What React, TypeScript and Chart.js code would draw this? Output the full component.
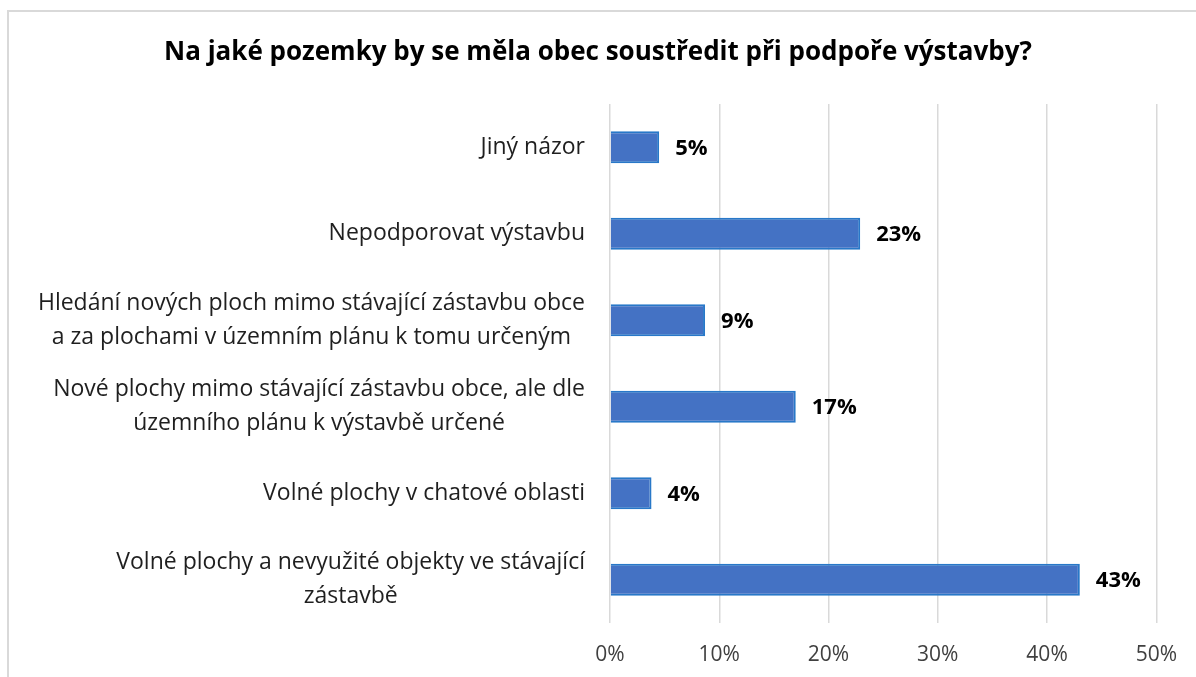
import { useEffect, useRef } from 'react';
import { Chart, registerables } from 'chart.js';

Chart.register(...registerables);

const chartTitle = 'Na jaké pozemky by se měla obec soustředit při podpoře výstavby?';
const categories: string[][] = [
  ['Jiný názor'],
  ['Nepodporovat výstavbu'],
  ['Hledání nových ploch mimo stávající zástavbu obce', 'a za plochami v územním plánu k tomu určeným'],
  ['Nové plochy mimo stávající zástavbu obce, ale dle', 'územního plánu k výstavbě určené'],
  ['Volné plochy v chatové oblasti'],
  ['Volné plochy a nevyužité objekty ve stávající', 'zástavbě'],
];
const values = [4.5, 22.9, 8.7, 17.0, 3.8, 43.0];
const valueLabels = ['5%', '23%', '9%', '17%', '4%', '43%'];
const xTickValues = [0, 10, 20, 30, 40, 50];

const FONT = '"Open Sans", Lato, sans-serif';

const decorPlugin = {
  id: 'decor',
  beforeDraw(chart: any) {
    const ctx = chart.ctx;
    ctx.save();
    ctx.fillStyle = '#ffffff';
    ctx.fillRect(0, 0, chart.width, chart.height);
    ctx.strokeStyle = '#d9d9d9';
    ctx.lineWidth = 2;
    ctx.strokeRect(8, 11, chart.width + 20, chart.height + 20);
    ctx.restore();
  },
  afterDraw(chart: any) {
    const ctx = chart.ctx;
    const yScale = chart.scales.y;
    const xScale = chart.scales.x;
    ctx.save();
    // title
    ctx.fillStyle = '#000000';
    ctx.font = `bold 26px ${FONT}`;
    ctx.textAlign = 'center';
    ctx.textBaseline = 'middle';
    ctx.fillText(chartTitle, 598, 53);

    // category labels
    ctx.font = `23px ${FONT}`;
    ctx.fillStyle = '#1f1f1f';
    const lineH = 34;
    const rightEdge = chart.chartArea.left - 25;
    categories.forEach((lines, i) => {
      const cy = yScale.getPixelForValue(i);
      const maxW = Math.max(...lines.map((l) => ctx.measureText(l).width));
      const cx = rightEdge - maxW / 2;
      const startY = cy - ((lines.length - 1) * lineH) / 2;
      lines.forEach((l, j) => {
        ctx.fillText(l, cx, startY + j * lineH);
      });
    });

    // data labels
    ctx.font = `bold 22px ${FONT}`;
    ctx.fillStyle = '#000000';
    ctx.textAlign = 'left';
    values.forEach((v, i) => {
      const x = xScale.getPixelForValue(v);
      const y = yScale.getPixelForValue(i);
      ctx.fillText(valueLabels[i], x + 16, y + 1);
    });
    ctx.restore();
  },
};

export default function App() {
  const ref = useRef<HTMLCanvasElement>(null);
  useEffect(() => {
    if (!ref.current) return;
    const chart = new Chart(ref.current, {
      type: 'bar',
      data: {
        labels: categories.map((c) => c.join(' ')),
        datasets: [
          {
            data: values,
            backgroundColor: '#4472C4',
            borderColor: '#2878C8',
            borderWidth: 2,
            categoryPercentage: 1,
            barPercentage: 0.37,
          },
        ],
      },
      options: {
        indexAxis: 'y',
        responsive: false,
        animation: false,
        layout: { padding: { top: 104, right: 39, left: 0, bottom: 0 } },
        plugins: {
          legend: { display: false },
          title: { display: false },
          tooltip: { enabled: false },
        },
        scales: {
          x: {
            min: 0,
            max: 50,
            afterBuildTicks: (s: any) => {
              s.ticks = xTickValues.map((v) => ({ value: v }));
            },
            afterFit: (s: any) => {
              s.height = 54;
            },
            ticks: {
              callback: (v: any) => `${v}%`,
              font: { family: FONT, size: 21 },
              color: '#404040',
              padding: 19,
              maxRotation: 0,
            },
            grid: { color: '#d9d9d9', lineWidth: 1.5, drawTicks: false },
            border: { display: false },
          },
          y: {
            ticks: { display: false },
            grid: { display: false },
            border: { display: false },
            afterFit: (s: any) => {
              s.width = 610;
            },
          },
        },
      },
      plugins: [decorPlugin],
    });
    return () => chart.destroy();
  }, []);
  return (
    <canvas
      ref={ref}
      width={1196}
      height={677}
      style={{ position: 'fixed', left: 0, top: 0, display: 'block' }}
    />
  );
}
